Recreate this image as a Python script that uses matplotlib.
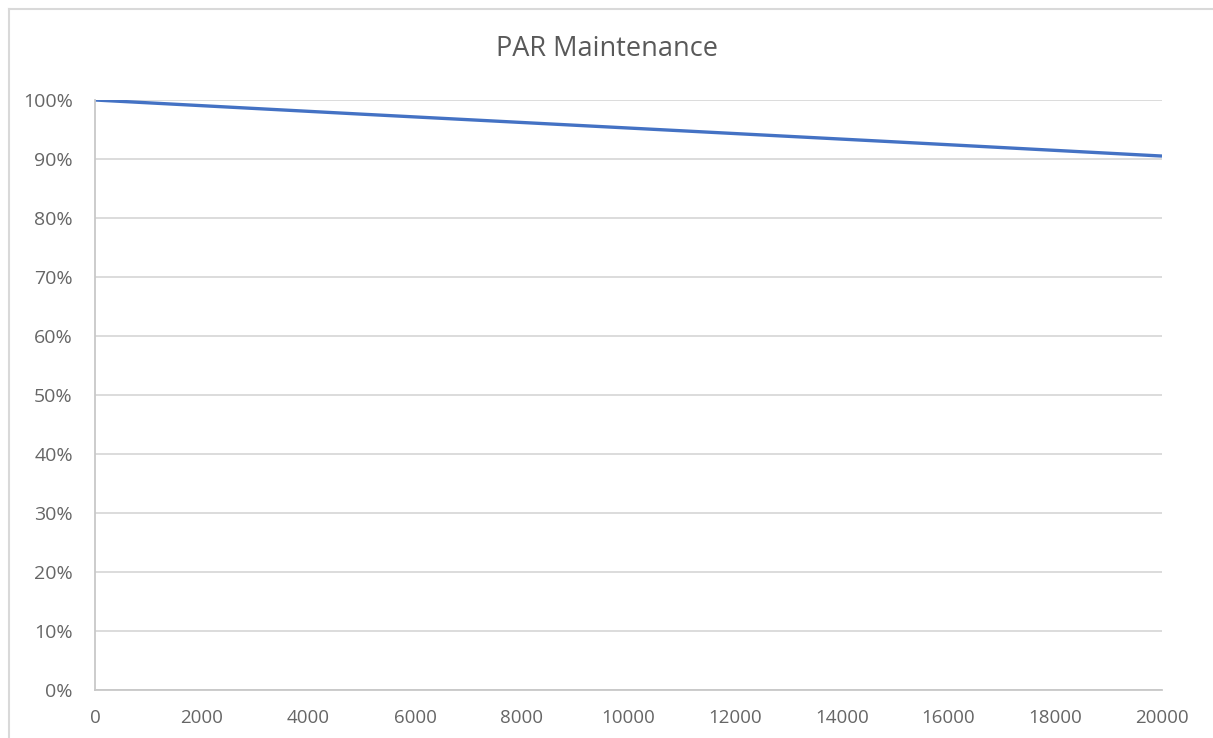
import matplotlib.pyplot as plt
from matplotlib.lines import Line2D
from matplotlib.ticker import PercentFormatter

# data
hours = [0, 5000, 10000, 15000, 20000]
par_maintenance = [1.00, 0.976, 0.9525, 0.929, 0.905]
x_ticks = list(range(0, 20001, 2000))
y_ticks = [i / 10 for i in range(11)]

plt.rcParams['font.family'] = ['Open Sans', 'DejaVu Sans']

fig = plt.figure(figsize=(12.13, 7.38), dpi=100)
ax = fig.add_axes([95 / 1213, 1 - 690 / 738, (1162 - 95) / 1213, (690 - 100) / 738])

ax.plot(hours, par_maintenance, color='#4472C4', linewidth=2.4, solid_capstyle='butt')

ax.set_xlim(0, 20000)
ax.set_ylim(0, 1)
ax.set_xticks(x_ticks)
ax.set_xticklabels([str(t) for t in x_ticks])
ax.set_yticks(y_ticks)
ax.yaxis.set_major_formatter(PercentFormatter(1.0, decimals=0))
ax.grid(axis='y', color='#d9d9d9', linewidth=1.3)
ax.set_axisbelow(True)
for s in ['top', 'right']:
    ax.spines[s].set_visible(False)
for s in ['left', 'bottom']:
    ax.spines[s].set_color('#c8c8c8')
    ax.spines[s].set_linewidth(1.3)
ax.tick_params(length=0, labelsize=13, labelcolor='#666666')
ax.tick_params(axis='x', labelsize=13.5, pad=14)
ax.tick_params(axis='y', labelsize=14, pad=16)

fig.text(0.5, 1 - 49 / 738, 'PAR Maintenance', ha='center', va='center',
         fontsize=19.5, color='#595959')

# outer chart border: only the left and top edges fall inside the image
bx, by = 8.5 / 1213, 1 - 8.5 / 738
fig.add_artist(Line2D([bx, bx], [0, by], transform=fig.transFigure,
                      color='#d9d9d9', linewidth=1.5))
fig.add_artist(Line2D([bx, 1], [by, by], transform=fig.transFigure,
                      color='#d9d9d9', linewidth=1.5))

fig.savefig('out.png', dpi=100)
